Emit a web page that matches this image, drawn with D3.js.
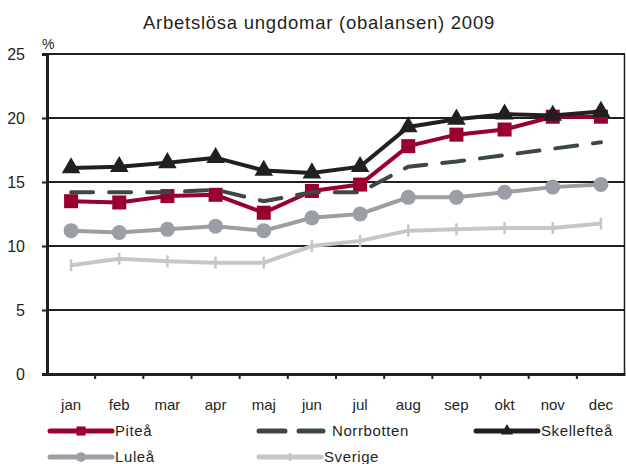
<!DOCTYPE html>
<html>
<head>
<meta charset="utf-8">
<script src="https://cdn.jsdelivr.net/npm/d3@7"></script>
<style>
  body { margin: 0; background: #fff; }
  svg { font-family: "Liberation Sans", Arial, sans-serif; }
</style>
</head>
<body>
<svg id="chart" width="626" height="464"></svg>
<script>
var months = ['jan', 'feb', 'mar', 'apr', 'maj', 'jun', 'jul', 'aug', 'sep', 'okt', 'nov', 'dec'];
var yTicks = [0, 5, 10, 15, 20, 25];

var pitea = [13.5, 13.4, 13.9, 14.0, 12.6, 14.3, 14.8, 17.8, 18.7, 19.1, 20.1, 20.1];
var norrbotten = [14.2, 14.2, 14.2, 14.4, 13.5, 14.2, 14.2, 16.2, 16.6, 17.1, 17.6, 18.1];
var skelleftea = [16.1, 16.2, 16.5, 16.9, 15.9, 15.7, 16.2, 19.3, 19.9, 20.3, 20.2, 20.5];
var lulea = [11.2, 11.05, 11.3, 11.55, 11.2, 12.2, 12.5, 13.8, 13.8, 14.2, 14.6, 14.8];
var sverige = [8.5, 9.0, 8.8, 8.7, 8.7, 10.0, 10.4, 11.2, 11.3, 11.4, 11.4, 11.75];

var svg = d3.select('#chart');
var MARGINS = { top: 54, right: 1, bottom: 90, left: 47 };
var WIDTH = 626, HEIGHT = 464;
var ink = '#231f20';

var x = d3.scaleBand().domain(months).range([MARGINS.left, WIDTH - MARGINS.right]);
var y = d3.scaleLinear().domain([0, 25]).range([HEIGHT - MARGINS.bottom, MARGINS.top]);

// title
svg.append('text')
  .attr('x', 319).attr('y', 29)
  .attr('text-anchor', 'middle')
  .attr('font-size', 18.5)
  .attr('letter-spacing', 0.75)
  .attr('fill', ink)
  .text('Arbetslösa ungdomar (obalansen) 2009');

svg.append('text')
  .attr('x', 42).attr('y', 49)
  .attr('font-size', 14)
  .attr('fill', ink)
  .text('%');

// gridlines
svg.append('g').selectAll('line')
  .data(yTicks.filter(function (d) { return d > 0; }))
  .enter().append('line')
  .attr('x1', MARGINS.left).attr('x2', WIDTH - MARGINS.right)
  .attr('y1', function (d) { return y(d); })
  .attr('y2', function (d) { return y(d); })
  .attr('stroke', ink)
  .attr('stroke-width', 2);

// right border
svg.append('line')
  .attr('x1', WIDTH - MARGINS.right - 0.5).attr('x2', WIDTH - MARGINS.right - 0.5)
  .attr('y1', y(25)).attr('y2', y(0))
  .attr('stroke', ink).attr('stroke-width', 1.5);

// y axis
var yAxis = d3.axisLeft(y).tickValues(yTicks).tickSize(5).tickPadding(17);
var gy = svg.append('g')
  .attr('transform', 'translate(' + MARGINS.left + ',0)')
  .call(yAxis);
gy.select('.domain').attr('stroke', ink).attr('stroke-width', 3);
gy.selectAll('.tick line').attr('stroke', ink).attr('stroke-width', 2);
gy.selectAll('.tick text').attr('font-size', 16).attr('fill', ink)
  .attr('font-family', '"Liberation Sans", Arial, sans-serif');

// x axis
var xAxis = d3.axisBottom(x).tickSize(0).tickPadding(25);
var gx = svg.append('g')
  .attr('transform', 'translate(0,' + y(0) + ')')
  .call(xAxis);
gx.select('.domain').attr('stroke', ink).attr('stroke-width', 3);
gx.selectAll('.tick text').attr('font-size', 15).attr('fill', ink)
  .attr('font-family', '"Liberation Sans", Arial, sans-serif');

// x tick marks at band boundaries
svg.append('g').selectAll('line')
  .data(months.slice(1))
  .enter().append('line')
  .attr('x1', function (d) { return x(d); })
  .attr('x2', function (d) { return x(d); })
  .attr('y1', y(0)).attr('y2', y(0) + 5)
  .attr('stroke', ink).attr('stroke-width', 2);

var line = d3.line()
  .x(function (d, i) { return x(months[i]) + x.bandwidth() / 2; })
  .y(function (d) { return y(d); });

var series = [
  { name: 'Sverige', data: sverige, color: '#c3c7cc', marker: 'plus' },
  { name: 'Luleå', data: lulea, color: '#9a9fa6', marker: 'circle' },
  { name: 'Piteå', data: pitea, color: '#990030', marker: 'square' },
  { name: 'Norrbotten', data: norrbotten, color: '#3d4748', marker: 'none', dash: '22,16' },
  { name: 'Skellefteå', data: skelleftea, color: ink, marker: 'triangle' }
];

function drawMarker(g, type, color, cx, cy, scale) {
  scale = scale || 1;
  if (type === 'square') {
    var s = 14 * scale;
    g.append('rect').attr('x', cx - s / 2).attr('y', cy - s / 2)
      .attr('width', s).attr('height', s).attr('fill', color);
  } else if (type === 'circle') {
    g.append('circle').attr('cx', cx).attr('cy', cy).attr('r', 7.5 * scale).attr('fill', color);
  } else if (type === 'triangle') {
    g.append('path')
      .attr('d', d3.symbol().type(d3.symbolTriangle).size(150 * scale * scale)())
      .attr('transform', 'translate(' + cx + ',' + cy + ')')
      .attr('fill', color);
  } else if (type === 'plus') {
    var h = 6 * scale;
    g.append('line').attr('x1', cx).attr('x2', cx).attr('y1', cy - h).attr('y2', cy + h)
      .attr('stroke', color).attr('stroke-width', 2.5);
  }
}

series.forEach(function (s) {
  var g = svg.append('g');
  g.append('path')
    .datum(s.data)
    .attr('d', line)
    .attr('fill', 'none')
    .attr('stroke', s.color)
    .attr('stroke-width', 4)
    .attr('stroke-linecap', s.dash ? 'round' : 'butt')
    .attr('stroke-dasharray', s.dash || null);
  s.data.forEach(function (v, i) {
    drawMarker(g, s.marker, s.color, x(months[i]) + x.bandwidth() / 2, y(v));
  });
});

// legend
var legendItems = [
  { s: series[2], lx: 48, ly: 431 },
  { s: series[3], lx: 257, ly: 431 },
  { s: series[4], lx: 474, ly: 431 },
  { s: series[1], lx: 48, ly: 457 },
  { s: series[0], lx: 257, ly: 457 }
];

legendItems.forEach(function (item) {
  var g = svg.append('g');
  var s = item.s;
  if (s.dash) {
    g.append('line').attr('x1', item.lx + 2).attr('x2', item.lx + 28)
      .attr('y1', item.ly).attr('y2', item.ly)
      .attr('stroke', s.color).attr('stroke-width', 5).attr('stroke-linecap', 'round');
    g.append('line').attr('x1', item.lx + 42).attr('x2', item.lx + 66)
      .attr('y1', item.ly).attr('y2', item.ly)
      .attr('stroke', s.color).attr('stroke-width', 5).attr('stroke-linecap', 'round');
  } else {
    g.append('line').attr('x1', item.lx + 2).attr('x2', item.lx + 64)
      .attr('y1', item.ly).attr('y2', item.ly)
      .attr('stroke', s.color).attr('stroke-width', 5).attr('stroke-linecap', 'round');
    drawMarker(g, s.marker, s.color, item.lx + 33, item.ly, 0.65);
  }
  g.append('text')
    .attr('x', item.lx + (s.dash ? 75 : 67))
    .attr('y', item.ly + 5)
    .attr('font-size', 15)
    .attr('letter-spacing', 0.6)
    .attr('fill', ink)
    .text(s.name);
});
</script>
</body>
</html>
